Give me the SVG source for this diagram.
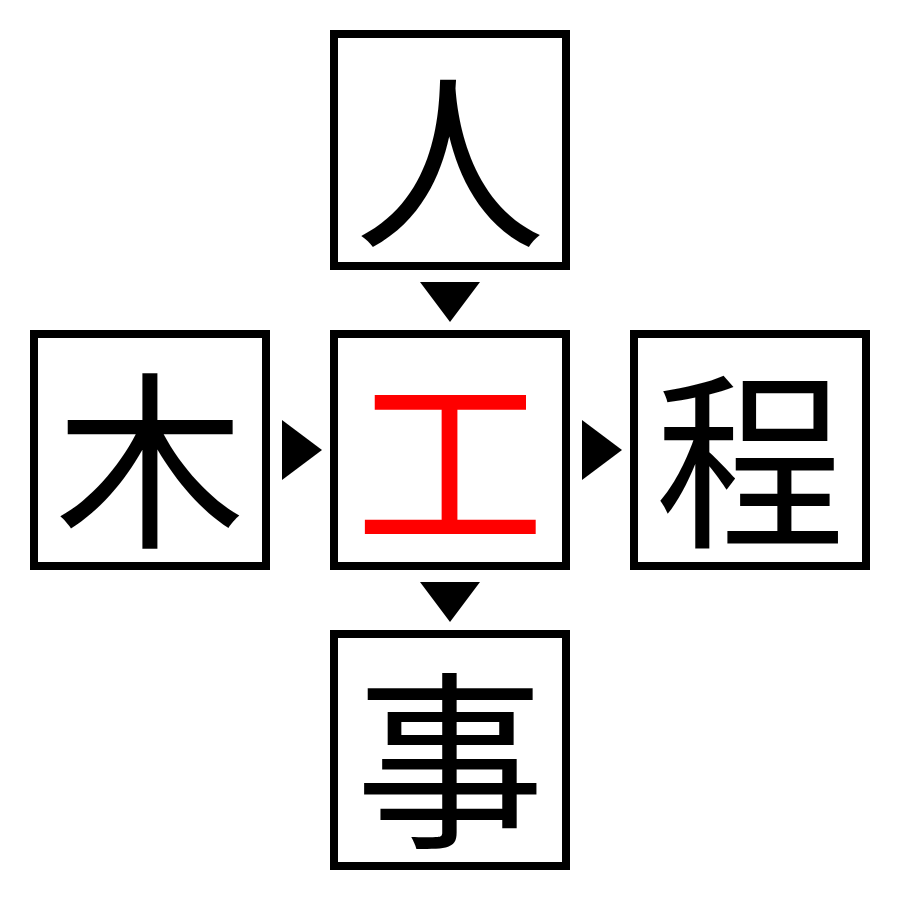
<svg xmlns="http://www.w3.org/2000/svg" width="900" height="900" viewBox="0 0 900 900">
<style>
.b{fill:#fff;stroke:#000;stroke-width:8}
.t{font-family:"Noto Sans CJK JP","Noto Sans CJK SC",serif;font-size:190px;text-anchor:middle;dominant-baseline:central}
</style>
<rect width="900" height="900" fill="#fff"/>
<g id="n-top"><rect class="b" x="334" y="34" width="232" height="232"/><text class="t" x="450" y="150">人</text></g>
<g id="n-left"><rect class="b" x="34" y="334" width="232" height="232"/><text class="t" x="150" y="450">木</text></g>
<g id="n-center"><rect class="b" x="334" y="334" width="232" height="232"/><text class="t" x="450" y="450" fill="#f00">工</text></g>
<g id="n-right"><rect class="b" x="634" y="334" width="232" height="232"/><text class="t" x="750" y="450">程</text></g>
<g id="n-bottom"><rect class="b" x="334" y="634" width="232" height="232"/><text class="t" x="750" y="750" transform="translate(-300,0)">事</text></g>
<g id="connectors" fill="#000">
<polygon points="420,282 480,282 450,322"/>
<polygon points="282,420 322,450 282,480"/>
<polygon points="582,420 622,450 582,480"/>
<polygon points="420,582 480,582 450,622"/>
</g>
</svg>
